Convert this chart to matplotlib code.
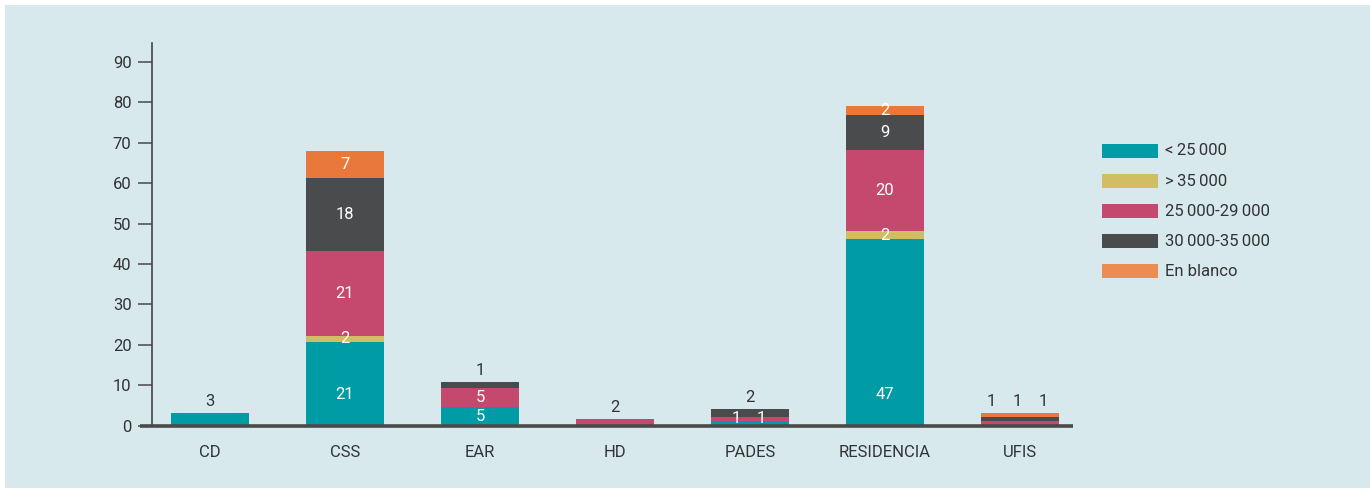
import matplotlib
matplotlib.use("Agg")
import matplotlib.pyplot as plt
from matplotlib.patches import Rectangle
import numpy as np

plt.rcParams['font.family'] = ['Roboto', 'DejaVu Sans']

# ---------------- data ----------------
categories = ["CD", "CSS", "EAR", "HD", "PADES", "RESIDENCIA", "UFIS"]
series_names = ["<\u200925\u2009000", ">\u200935\u2009000", "25\u2009000-29\u2009000",
                "30\u2009000-35\u2009000", "En blanco"]

# bar heights as drawn in the picture
lt25 = [3.1, 20.7, 4.5, 0, 1.0, 46.1, 0]
gt35 = [0, 1.5, 0, 0, 0, 2.0, 0]
r25_29 = [0, 21.0, 4.8, 1.6, 1.0, 20.1, 1.0]
r30_35 = [0, 18.1, 1.5, 0, 2.0, 8.6, 1.0]
blank = [0, 6.6, 0, 0, 0, 2.2, 1.0]

# printed data labels
lt25_lbl = [3, 21, 5, None, 1, 47, None]
gt35_lbl = [None, 2, None, None, None, 2, None]
r25_29_lbl = [None, 21, 5, 2, 1, 20, 1]
r30_35_lbl = [None, 18, 1, None, 2, 9, 1]
blank_lbl = [None, 7, None, None, None, 2, 1]

yticks = [0, 10, 20, 30, 40, 50, 60, 70, 80, 90]

# ---------------- style ----------------
BG = "#D8E9EE"
colors = ["#009CA6", "#D2BE62", "#C5486F", "#4A4B4D", "#E8793A"]
legend_colors = ["#009CA6", "#D2BE62", "#C5486F", "#4A4B4D", "#EC8B52"]
TXT = "#333333"
FS = 12

heights = [lt25, gt35, r25_29, r30_35, blank]
labels = [lt25_lbl, gt35_lbl, r25_29_lbl, r30_35_lbl, blank_lbl]

# label placement overrides: (category, series index) -> (mode, dx)
label_place = {
    ("CD", 0): ("above", 0.0),
    ("EAR", 3): ("above", 0.0),
    ("HD", 2): ("above", 0.0),
    ("PADES", 0): ("base", -0.10),
    ("PADES", 2): ("base", 0.08),
    ("PADES", 3): ("above", 0.0),
    ("UFIS", 2): ("above", -0.21),
    ("UFIS", 3): ("above", -0.02),
    ("UFIS", 4): ("above", 0.17),
}

W, H = 1370, 488
fig = plt.figure(figsize=(W / 100, H / 100), dpi=100, facecolor="white")
fig.patches.append(Rectangle((5 / W, 0), 1 - 5 / W, 1 - 5 / H, transform=fig.transFigure,
                             facecolor=BG, edgecolor="none", zorder=-10))

ax = fig.add_axes([151.7 / W, 62.5 / H, (1073 - 151.7) / W, (425.5 - 43) / H])
ax.set_facecolor("none")
ax.set_xlim(-0.432, 6.393)
ax.set_ylim(0, 94.7)

x = np.arange(len(categories))
bottom = np.zeros(len(categories))
bw = 0.58
for h, c in zip(heights, colors):
    ax.bar(x, h, width=bw, bottom=bottom, color=c, linewidth=0, zorder=2)
    bottom = bottom + np.array(h)
totals = bottom

# data labels
cum = np.zeros(len(categories))
for si, (h, lbls) in enumerate(zip(heights, labels)):
    for ci, cat in enumerate(categories):
        lbl = lbls[ci]
        if lbl is not None:
            mode, dx = label_place.get((cat, si), ("in", 0.0))
            if mode == "above":
                y = totals[ci] + 2.9
                col = TXT
            elif mode == "base":
                y = 1.85
                col = "white"
            else:
                y = cum[ci] + h[ci] / 2
                if si == 0:
                    y = min(y, 7.7)
                col = "white"
            ax.text(ci + dx, y, str(lbl), ha="center", va="center", fontsize=FS,
                    color=col, zorder=4)
    cum = cum + np.array(h)

# axes styling
for s in ["top", "right", "bottom"]:
    ax.spines[s].set_visible(False)
ax.spines["left"].set_color("#444444")
ax.spines["left"].set_linewidth(1.2)
ax.plot([-0.0127, 1.0], [0, 0], transform=ax.transAxes, color="#4a4a4a", lw=2.6,
        clip_on=False, zorder=5, solid_capstyle="butt")

ax.set_yticks(yticks)
ax.set_yticklabels([str(v) for v in yticks])
ax.tick_params(axis="y", length=10, width=1.2, color="#555555", pad=4.5,
               labelsize=FS, labelcolor=TXT)
ax.set_xticks(x)
ax.set_xticklabels(categories)
ax.tick_params(axis="x", length=0, pad=14, labelsize=FS, labelcolor=TXT)

# legend (drawn manually)
row_y = [151, 181, 211, 241, 271]
for name, c, yy in zip(series_names, legend_colors, row_y):
    fig.patches.append(Rectangle((1102 / W, 1 - (yy + 7) / H), 56 / W, 14 / H,
                                 transform=fig.transFigure, facecolor=c,
                                 edgecolor="none"))
    fig.text(1165 / W, 1 - yy / H, name, ha="left", va="center", fontsize=FS,
             color=TXT)

fig.savefig("out.png", dpi=100, facecolor="white")
